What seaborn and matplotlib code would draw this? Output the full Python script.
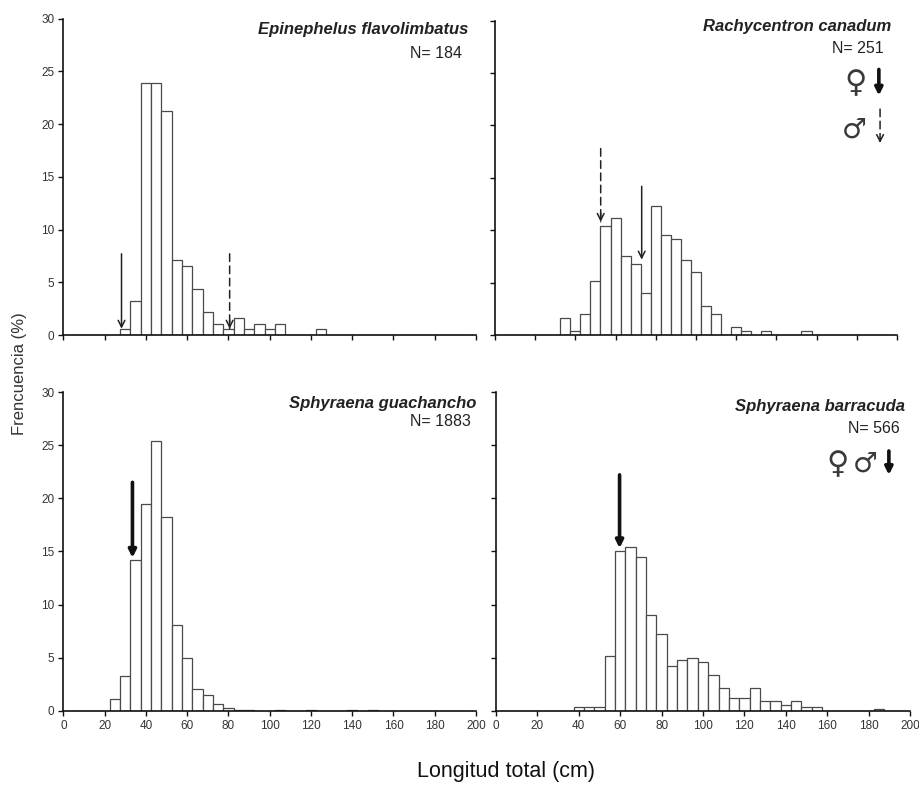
import numpy as np
import pandas as pd
import matplotlib
matplotlib.use("Agg")
import matplotlib.pyplot as plt
import seaborn as sns

# 5 cm length classes (bin centres, cm) and frequency (%) per species
ef_len = [30, 35, 40, 45, 50, 55, 60, 65, 70, 75, 80, 85, 90, 95, 100, 105, 110, 115, 120, 125]
ef_pct = [0.54, 3.26, 23.9, 23.9, 21.2, 7.07, 6.52, 4.35, 2.17, 1.09, 0.54, 1.63, 0.54, 1.09, 0.54, 1.09, 0, 0, 0, 0.54]

rc_len = [35, 40, 45, 50, 55, 60, 65, 70, 75, 80, 85, 90, 95, 100, 105, 110, 115, 120, 125, 130, 135, 140, 145, 150, 155]
rc_pct = [1.59, 0.40, 1.99, 5.18, 10.36, 11.16, 7.57, 6.77, 3.98, 12.35, 9.56, 9.16, 7.17, 5.98, 2.79, 1.99,
          0, 0.80, 0.40, 0, 0.40, 0, 0, 0, 0.40]

sg_len = [25, 30, 35, 40, 45, 50, 55, 60, 65, 70, 75, 80, 85, 90, 95, 100, 105, 110, 115, 120,
          125, 130, 135, 140, 145, 150]
sg_pct = [1.1, 3.3, 14.2, 19.5, 25.4, 18.2, 8.1, 5.0, 2.0, 1.5, 0.64, 0.27, 0.11, 0.11, 0, 0, 0.11, 0, 0, 0.11,
          0, 0, 0, 0.11, 0, 0.11]

sb_len = [40, 45, 50, 55, 60, 65, 70, 75, 80, 85, 90, 95, 100, 105, 110, 115, 120, 125, 130, 135, 140,
          145, 150, 155, 160, 165, 170, 175, 180, 185]
sb_pct = [0.35, 0.35, 0.35, 5.12, 15.0, 15.4, 14.5, 9.0, 7.24, 4.24, 4.77, 4.95, 4.59, 3.36, 2.12, 1.24, 1.24,
          2.12, 0.88, 0.88, 0.53, 0.88, 0.35, 0.35, 0, 0, 0, 0, 0, 0.18]

species = ["Epinephelus flavolimbatus", "Rachycentron canadum", "Sphyraena guachancho", "Sphyraena barracuda"]
n_labels = ["N= 184", "N= 251", "N= 1883", "N= 566"]

# maturity arrows: (length cm, tail %, tip %, style)
ef_arrows = [(28.2, 7.7, 0.6, "thin"), (80.6, 7.7, 0.6, "dashed")]
rc_arrows = [(52.6, 17.8, 10.8, "dashed"), (73.0, 14.2, 7.2, "thin")]
sg_arrows = [(33.5, 21.5, 14.4, "thick")]
sb_arrows = [(59.7, 22.2, 15.3, "thick")]

sns.set_theme(style="ticks")
plt.rcParams["font.family"] = ["Liberation Sans", "DejaVu Sans"]

fig = plt.figure(figsize=(9.19, 7.85), dpi=100)
ax_tl = fig.add_axes([0.0689, 0.5732, 0.4491, 0.4032])
ax_tr = fig.add_axes([0.5386, 0.5732, 0.4374, 0.4004])
ax_bl = fig.add_axes([0.0689, 0.0946, 0.4491, 0.4060])
ax_br = fig.add_axes([0.5397, 0.0946, 0.4505, 0.4060])
axes = [ax_tl, ax_tr, ax_bl, ax_br]
data = [(ef_len, ef_pct), (rc_len, rc_pct), (sg_len, sg_pct), (sb_len, sb_pct)]
arrows = [ef_arrows, rc_arrows, sg_arrows, sb_arrows]
title_pos = [(0.981, 0.964, 0.966, 0.891), (0.985, 0.983, 0.968, 0.913),
             (1.002, 0.965, 0.988, 0.906), (0.988, 0.956, 0.976, 0.884)]


def draw_arrow(ax, x, y0, y1, kind, coords="data"):
    if kind == "thick":
        ax.annotate("", xy=(x, y1), xytext=(x, y0), xycoords=coords, textcoords=coords,
                    arrowprops=dict(arrowstyle="-|>", lw=2.6, color="#111111", mutation_scale=11,
                                    shrinkA=0, shrinkB=0))
    elif kind == "thin":
        ax.annotate("", xy=(x, y1), xytext=(x, y0), xycoords=coords, textcoords=coords,
                    arrowprops=dict(arrowstyle="->", lw=1.1, color="#222222", mutation_scale=12,
                                    shrinkA=0, shrinkB=0))
    else:
        ax.annotate("", xy=(x, y1), xytext=(x, y0), xycoords=coords, textcoords=coords,
                    arrowprops=dict(arrowstyle="-", lw=1.1, color="#222222", linestyle=(0, (5, 3)),
                                    shrinkA=0, shrinkB=0))
        ax.annotate("", xy=(x, y1), xytext=(x, y1 + (y0 - y1) * 0.12), xycoords=coords, textcoords=coords,
                    arrowprops=dict(arrowstyle="->", lw=1.1, color="#222222", mutation_scale=12,
                                    shrinkA=0, shrinkB=0))


for i, ax in enumerate(axes):
    lens, pct = data[i]
    df = pd.DataFrame({"length": lens, "pct": pct})
    sns.histplot(data=df, x="length", weights="pct", binwidth=5, binrange=(2.5, 197.5), ax=ax,
                 color="white", edgecolor="#4a4a4a", linewidth=0.9, alpha=1)
    ax.set_xlim(0, 200)
    ax.set_ylim(0, 30)
    ax.set_xticks(np.arange(0, 201, 20))
    ax.set_yticks(np.arange(0, 31, 5))
    ax.set_xlabel("")
    ax.set_ylabel("")
    sns.despine(ax=ax)
    for sp in ["left", "bottom"]:
        ax.spines[sp].set_linewidth(1.2)
        ax.spines[sp].set_color("#111111")
    ax.tick_params(direction="out", length=3.5, width=1, colors="#111111", labelsize=8.5,
                   labelcolor="#333333", pad=3)
    if i < 2:
        ax.tick_params(axis="x", labelbottom=False)
    if i % 2 == 1:
        ax.tick_params(axis="y", labelleft=False)
    tx, ty, nx, ny = title_pos[i]
    ax.text(tx, ty, species[i], transform=ax.transAxes, ha="right", va="center",
            fontsize=12, fontweight="bold", fontstyle="italic", color="#222222")
    ax.text(nx, ny, n_labels[i], transform=ax.transAxes, ha="right", va="center",
            fontsize=11.5, color="#222222")
    for x, y0, y1, kind in arrows[i]:
        draw_arrow(ax, x, y0, y1, kind)

# sex keys
sym_kw = dict(ha="center", va="center", family=["DejaVu Sans"], color="#3a3a3a")
ax_tr.text(0.896, 0.800, "\u2640", transform=ax_tr.transAxes, fontsize=22, **sym_kw)
ax_tr.text(0.893, 0.652, "\u2642", transform=ax_tr.transAxes, fontsize=20, **sym_kw)
draw_arrow(ax_tr, 0.955, 0.845, 0.762, "thick", coords="axes fraction")
draw_arrow(ax_tr, 0.958, 0.719, 0.611, "dashed", coords="axes fraction")

ax_br.text(0.824, 0.773, "\u2640", transform=ax_br.transAxes, fontsize=22, **sym_kw)
ax_br.text(0.891, 0.776, "\u2642", transform=ax_br.transAxes, fontsize=20, **sym_kw)
draw_arrow(ax_br, 0.949, 0.815, 0.740, "thick", coords="axes fraction")

fig.text(0.0207, 0.524, "Frencuencia (%)", rotation=90, ha="center", va="center",
         fontsize=12, color="#333333")
fig.text(0.551, 0.0166, "Longitud total (cm)", ha="center", va="center", fontsize=15.5, color="#111111")

fig.savefig("out.png", dpi=100)
